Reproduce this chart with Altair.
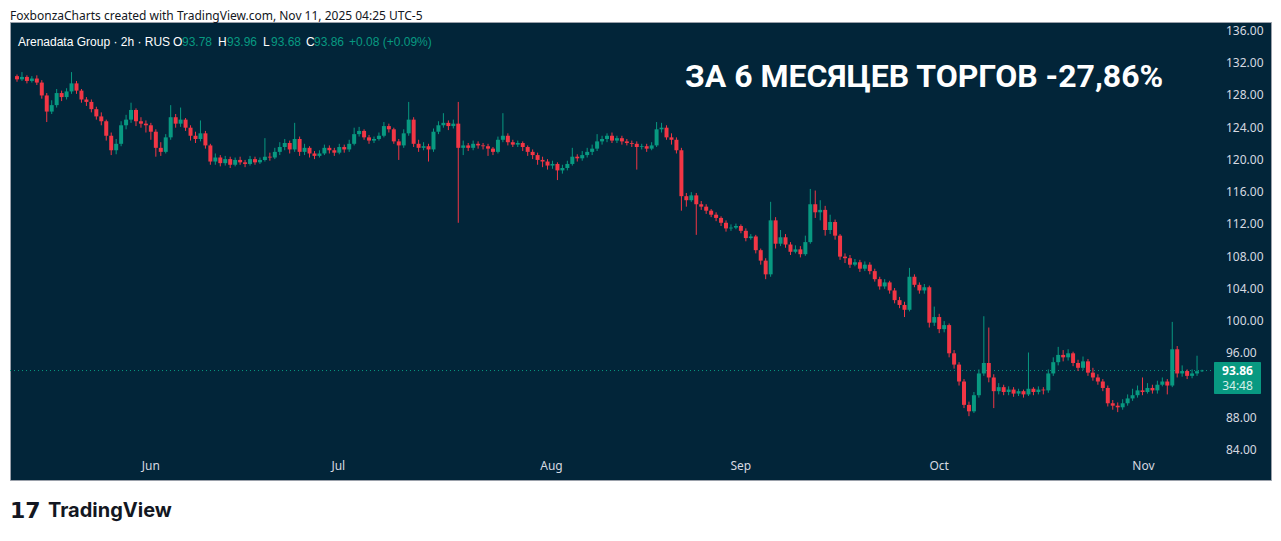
import altair as alt
import pandas as pd

# ---------------- data (2h candles) ----------------
opens = [
    130.4, 130.0, 130.3, 129.8, 130.1, 129.6, 128.0, 126.0, 126.8, 128.3,
    127.8, 128.5, 129.5, 128.6, 127.5, 127.2, 126.3, 125.4, 124.8, 123.0,
    121.2, 122.0, 124.3, 125.0, 126.2, 124.8, 124.5, 124.3, 123.5, 121.5,
    121.0, 122.8, 125.3, 124.5, 125.0, 124.0, 123.0, 122.6, 123.3, 121.8,
    119.8, 120.3, 119.6, 120.1, 119.4, 120.0, 119.7, 119.5, 120.1, 119.7,
    120.0, 120.4, 120.3, 121.0, 121.6, 122.1, 121.3, 122.6, 121.0, 121.5,
    120.8, 120.5, 120.8, 121.5, 121.2, 120.9, 121.6, 121.3, 122.0, 123.2,
    123.6, 122.8, 122.4, 122.6, 123.0, 124.2, 123.8, 122.3, 121.8, 123.3,
    125.0, 122.0, 121.5, 121.7, 121.3, 123.5, 124.3, 124.6, 124.2, 124.5,
    121.5, 121.8, 121.5, 122.0, 121.8, 121.7, 121.4, 121.0, 122.5, 123.0,
    122.2, 121.9, 122.1, 121.6, 121.0, 120.6, 120.0, 119.8, 119.3, 119.5,
    118.7, 119.0, 119.5, 120.4, 120.2, 120.6, 121.0, 121.4, 122.3, 122.6,
    123.0, 122.4, 122.7, 122.3, 122.1, 122.0, 121.6, 121.7, 121.4, 121.8,
    123.8, 124.0, 122.8, 122.5, 121.2, 115.5, 115.0, 115.6, 114.5, 114.2,
    113.7, 113.2, 112.8, 112.2, 111.5, 111.6, 111.8, 111.2, 110.3, 110.5,
    108.8, 107.5, 105.8, 112.5, 109.6, 110.4, 109.5, 108.6, 108.9, 108.3,
    109.8, 114.5, 113.5, 113.8, 111.3, 112.3, 110.6, 108.0, 107.8, 107.0,
    107.3, 106.5, 107.0, 106.2, 105.2, 104.3, 104.8, 103.8, 102.6, 102.0,
    101.4, 105.5, 104.5, 103.8, 104.2, 99.8, 100.5, 99.0, 99.5, 96.0,
    94.6, 92.5, 89.6, 88.8, 90.8, 93.5, 94.8, 93.0, 91.3, 91.8,
    91.2, 91.5, 91.0, 91.3, 90.9, 91.6, 91.2, 91.5, 91.4, 93.5,
    94.9, 95.8, 95.5, 96.0, 94.8, 94.2, 95.0, 93.6, 93.0, 92.5,
    91.7, 89.8, 89.5, 89.3, 89.8, 90.4, 90.8, 91.4, 91.2, 91.7,
    91.4, 92.1, 92.5, 92.0, 96.5, 93.5, 93.8, 93.2, 93.5, 93.78,
]
highs = [
    130.6, 130.9, 130.5, 130.4, 130.5, 129.9, 128.3, 127.4, 128.8, 128.6,
    128.9, 130.9, 129.8, 128.8, 127.8, 127.5, 126.6, 125.9, 125.0, 123.4,
    122.6, 124.8, 125.6, 127.1, 126.4, 125.3, 124.9, 124.6, 123.8, 122.2,
    123.2, 126.8, 125.7, 126.5, 125.2, 124.3, 123.5, 124.9, 123.6, 122.0,
    120.8, 120.6, 120.5, 120.4, 120.3, 120.4, 120.0, 120.5, 120.4, 120.3,
    122.7, 120.9, 121.5, 122.2, 122.6, 122.4, 124.6, 122.9, 122.0, 121.7,
    121.1, 121.2, 121.9, 121.8, 121.5, 122.0, 121.9, 122.5, 124.0, 124.1,
    123.8, 123.1, 122.9, 123.4, 124.7, 124.5, 124.0, 122.6, 123.8, 127.2,
    125.3, 122.5, 122.2, 122.0, 123.9, 124.8, 125.8, 124.9, 125.0, 127.2,
    122.4, 122.1, 122.4, 122.3, 122.1, 122.0, 121.6, 122.9, 125.8, 123.3,
    122.5, 122.4, 122.3, 121.8, 121.3, 120.9, 120.4, 120.1, 119.9, 119.7,
    119.4, 119.9, 121.5, 120.7, 121.1, 121.5, 121.9, 123.2, 123.0, 123.3,
    123.4, 123.0, 123.0, 122.6, 122.4, 122.3, 122.0, 122.0, 122.2, 124.7,
    124.6, 124.3, 123.3, 122.8, 121.5, 115.9, 116.0, 115.9, 114.9, 114.5,
    113.9, 113.5, 113.0, 112.5, 112.0, 112.1, 112.0, 111.5, 110.8, 110.7,
    109.0, 107.8, 114.8, 112.9, 111.3, 110.8, 109.8, 109.4, 109.3, 110.6,
    116.4, 116.2, 115.0, 114.3, 113.2, 112.6, 110.8, 108.4, 108.2, 107.7,
    107.6, 107.4, 107.3, 106.5, 105.5, 105.2, 105.0, 104.1, 103.0, 102.4,
    106.6, 105.8, 104.8, 104.6, 104.4, 101.8, 100.9, 100.0, 99.7, 96.4,
    94.9, 92.8, 90.0, 91.2, 94.0, 100.6, 99.2, 93.4, 92.3, 92.1,
    91.9, 91.8, 91.6, 91.5, 96.1, 91.8, 91.9, 91.8, 94.0, 95.5,
    96.8, 96.4, 96.5, 96.2, 95.2, 95.6, 95.3, 94.2, 93.4, 92.8,
    92.0, 90.2, 89.9, 90.3, 90.9, 91.6, 92.0, 93.0, 92.3, 92.1,
    92.6, 93.0, 92.8, 99.9, 96.9, 94.5, 94.0, 94.0, 95.7, 93.96,
]
lows = [
    129.7, 129.8, 129.5, 129.6, 129.3, 127.6, 124.7, 125.7, 126.5, 127.3,
    127.5, 128.2, 128.2, 127.1, 126.7, 125.9, 125.0, 124.3, 122.4, 120.6,
    120.7, 121.7, 123.8, 124.6, 124.2, 124.0, 123.4, 122.5, 120.4, 120.5,
    120.8, 122.5, 124.0, 124.1, 123.6, 122.4, 122.1, 122.3, 121.4, 119.4,
    119.4, 119.2, 119.3, 119.0, 119.2, 119.4, 119.1, 119.3, 119.4, 119.5,
    119.8, 119.9, 120.1, 120.6, 121.2, 120.8, 121.0, 120.5, 120.6, 120.3,
    120.1, 120.3, 120.6, 120.8, 120.5, 120.7, 120.9, 121.0, 121.8, 122.9,
    122.5, 122.0, 122.1, 122.4, 122.8, 123.4, 122.0, 120.0, 121.5, 123.0,
    121.6, 121.0, 121.2, 119.8, 121.0, 123.2, 124.0, 123.7, 123.9, 112.2,
    120.6, 121.1, 121.2, 121.4, 121.3, 120.5, 120.6, 120.8, 122.2, 121.8,
    121.6, 121.6, 121.1, 120.5, 120.1, 119.4, 119.1, 118.8, 118.9, 117.5,
    118.3, 118.7, 119.3, 119.8, 119.9, 120.3, 120.6, 121.1, 121.9, 122.2,
    122.1, 122.1, 121.9, 121.8, 121.6, 118.8, 121.3, 121.0, 121.2, 121.6,
    123.4, 122.5, 121.9, 120.8, 113.7, 114.2, 114.8, 110.7, 113.8, 113.3,
    112.9, 112.4, 111.8, 111.1, 111.2, 111.4, 110.9, 109.9, 110.1, 108.4,
    107.0, 105.2, 105.5, 109.0, 109.3, 109.1, 108.2, 108.4, 107.9, 108.1,
    109.6, 112.8, 112.5, 110.6, 110.8, 110.1, 107.6, 107.2, 106.6, 106.8,
    106.1, 106.2, 105.8, 104.9, 103.9, 104.0, 103.4, 102.2, 101.6, 100.5,
    101.2, 104.2, 103.4, 103.4, 99.2, 99.4, 98.5, 98.6, 95.5, 94.1,
    92.0, 89.2, 88.2, 88.6, 90.5, 93.2, 92.4, 89.2, 90.9, 90.8,
    90.8, 90.6, 90.7, 90.5, 90.7, 90.8, 90.9, 90.9, 91.1, 93.2,
    94.5, 95.0, 95.1, 94.4, 93.8, 93.9, 93.2, 92.6, 92.1, 91.3,
    89.4, 89.0, 88.7, 89.0, 89.5, 90.1, 90.5, 90.8, 91.0, 91.0,
    91.0, 91.9, 90.9, 91.8, 93.0, 93.1, 92.8, 92.9, 93.2, 93.68,
]
closes = [
    130.0, 130.3, 129.8, 130.1, 129.6, 128.0, 126.0, 126.8, 128.3, 127.8,
    128.5, 129.5, 128.6, 127.5, 127.2, 126.3, 125.4, 124.8, 123.0, 121.2,
    122.0, 124.3, 125.0, 126.2, 124.8, 124.5, 124.3, 123.5, 121.5, 121.0,
    122.8, 125.3, 124.5, 125.0, 124.0, 123.0, 122.6, 123.3, 121.8, 119.8,
    120.3, 119.6, 120.1, 119.4, 120.0, 119.7, 119.5, 120.1, 119.7, 120.0,
    120.4, 120.3, 121.0, 121.6, 122.1, 121.3, 122.6, 121.0, 121.5, 120.8,
    120.5, 120.8, 121.5, 121.2, 120.9, 121.6, 121.3, 122.0, 123.2, 123.6,
    122.8, 122.4, 122.6, 123.0, 124.2, 123.8, 122.3, 121.8, 123.3, 125.0,
    122.0, 121.5, 121.7, 121.3, 123.5, 124.3, 124.6, 124.2, 124.5, 121.5,
    121.8, 121.5, 122.0, 121.8, 121.7, 121.4, 121.0, 122.5, 123.0, 122.2,
    121.9, 122.1, 121.6, 121.0, 120.6, 120.0, 119.8, 119.3, 119.5, 118.7,
    119.0, 119.5, 120.4, 120.2, 120.6, 121.0, 121.4, 122.3, 122.6, 123.0,
    122.4, 122.7, 122.3, 122.1, 122.0, 121.6, 121.7, 121.4, 121.8, 123.8,
    124.0, 122.8, 122.5, 121.2, 115.5, 115.0, 115.6, 114.5, 114.2, 113.7,
    113.2, 112.8, 112.2, 111.5, 111.6, 111.8, 111.2, 110.3, 110.5, 108.8,
    107.5, 105.8, 112.5, 109.6, 110.4, 109.5, 108.6, 108.9, 108.3, 109.8,
    114.5, 113.5, 113.8, 111.3, 112.3, 110.6, 108.0, 107.8, 107.0, 107.3,
    106.5, 107.0, 106.2, 105.2, 104.3, 104.8, 103.8, 102.6, 102.0, 101.4,
    105.5, 104.5, 103.8, 104.2, 99.8, 100.5, 99.0, 99.5, 96.0, 94.6,
    92.5, 89.6, 88.8, 90.8, 93.5, 94.8, 93.0, 91.3, 91.8, 91.2,
    91.5, 91.0, 91.3, 90.9, 91.6, 91.2, 91.5, 91.4, 93.5, 94.9,
    95.8, 95.5, 96.0, 94.8, 94.2, 95.0, 93.6, 93.0, 92.5, 91.7,
    89.8, 89.5, 89.3, 89.8, 90.4, 90.8, 91.4, 91.2, 91.7, 91.4,
    92.1, 92.5, 92.0, 96.5, 93.5, 93.8, 93.2, 93.5, 93.78, 93.86,
]
price_ticks = [136, 132, 128, 124, 120, 116, 112, 108, 104, 100, 96, 88, 84]
month_names = ["Jun", "Jul", "Aug", "Sep", "Oct", "Nov"]
month_bar_index = [27.0, 64.8, 107.8, 146.0, 186.0, 227.2]
countdown = "34:48"
title_text = "ЗА 6 МЕСЯЦЕВ ТОРГОВ -27,86%"
credit_text = "FoxbonzaCharts created with TradingView.com, Nov 11, 2025 04:25 UTC-5"
symbol_text = "Arenadata Group · 2h · RUS"

# ---------------- styling ----------------
BG = "#022539"
GREEN = "#089981"
RED = "#F23645"
AXIS_TXT = "#d6d9e0"
FONT = "Noto Sans"
LEG_FONT = "Liberation Sans"
W, H = 1265, 525

n = len(closes)
df = pd.DataFrame({"i": list(range(n)), "o": opens, "h": highs, "l": lows, "c": closes})
df["dir"] = ["up" if c >= o else "down" for o, c in zip(opens, closes)]

xs = alt.Scale(domain=[0, n - 1], range=[4, 4 + 5 * (n - 1)], zero=False, nice=False)
ys = alt.Scale(domain=[84, 136], range=[442, 23], zero=False, nice=False)
col = alt.Color("dir:N", scale=alt.Scale(domain=["up", "down"], range=[GREEN, RED]), legend=None)

one = pd.DataFrame({"a": [0]})


def label(x, y, text, color, size=12, weight="normal", font=FONT, align="left"):
    return alt.Chart(one).mark_text(
        align=align, baseline="middle", font=font, fontSize=size, fontWeight=weight, color=color
    ).encode(x=alt.value(x), y=alt.value(y), text=alt.value(text))


bg = alt.Chart(one).mark_rect(fill=BG, stroke="#9aa0aa", strokeWidth=1).encode(
    x=alt.value(2.5), x2=alt.value(1263.5), y=alt.value(14.5), y2=alt.value(472.5)
)

base = alt.Chart(df)
wicks = base.mark_rule(strokeWidth=1).encode(
    x=alt.X("i:Q", scale=xs, axis=None),
    y=alt.Y("l:Q", scale=ys, axis=None),
    y2="h:Q",
    color=col,
)
bodies = base.mark_bar(size=4).encode(
    x=alt.X("i:Q", scale=xs, axis=None),
    y=alt.Y("o:Q", scale=ys, axis=None),
    y2="c:Q",
    color=col,
)

last = pd.DataFrame({"p": [closes[-1]], "lbl": [f"{closes[-1]:.2f}"], "cd": [countdown]})
dotted = alt.Chart(last).mark_rule(color=GREEN, strokeDash=[1, 3], strokeWidth=1).encode(
    y=alt.Y("p:Q", scale=ys, axis=None), x=alt.value(2), x2=alt.value(1206)
)

ticks_df = pd.DataFrame({"p": price_ticks, "lbl": [f"{t:.2f}" for t in price_ticks]})
price_labels = alt.Chart(ticks_df).mark_text(
    align="left", baseline="middle", font=FONT, fontSize=12, color=AXIS_TXT
).encode(y=alt.Y("p:Q", scale=ys, axis=None), x=alt.value(1218), text="lbl:N")

cover = alt.Chart(one).mark_rect(fill=BG).encode(
    x=alt.value(1207), x2=alt.value(1262), y=alt.value(446), y2=alt.value(472)
)

box = alt.Chart(last).mark_rect(fill=GREEN, cornerRadius=1).encode(
    x=alt.value(1206), x2=alt.value(1253), y=alt.value(354), y2=alt.value(386)
)
box_price = alt.Chart(last).mark_text(
    align="center", baseline="middle", font=FONT, fontSize=12, fontWeight="bold", color="white"
).encode(x=alt.value(1229.5), y=alt.value(363), text="lbl:N")
box_cd = alt.Chart(last).mark_text(
    align="center", baseline="middle", font=FONT, fontSize=12, color="#d4efe9"
).encode(x=alt.value(1229.5), y=alt.value(378), text="cd:N")

months_df = pd.DataFrame({"m": month_bar_index, "name": month_names})
month_labels = alt.Chart(months_df).mark_text(
    align="center", baseline="middle", font=FONT, fontSize=12, color=AXIS_TXT
).encode(x=alt.X("m:Q", scale=xs, axis=None), y=alt.value(458), text="name:N")

# legend line (symbol + OHLC of the last bar)
chg = closes[-1] - closes[-2]
pct = chg / closes[-2] * 100
legend_layers = [
    label(10, 34, symbol_text, "white", font=LEG_FONT),
    label(165, 34, "O", "white", font=LEG_FONT),
    label(174, 34, f"{opens[-1]:.2f}", GREEN, font=LEG_FONT),
    label(210, 34, "H", "white", font=LEG_FONT),
    label(219, 34, f"{highs[-1]:.2f}", GREEN, font=LEG_FONT),
    label(255, 34, "L", "white", font=LEG_FONT),
    label(263, 34, f"{lows[-1]:.2f}", GREEN, font=LEG_FONT),
    label(298, 34, "C", "white", font=LEG_FONT),
    label(306, 34, f"{closes[-1]:.2f}", GREEN, font=LEG_FONT),
    label(341, 34, f"+{chg:.2f} (+{pct:.2f}%)", GREEN, font=LEG_FONT),
]

title = label(677, 69, title_text, "white", size=32, weight="bold", font="Roboto")
credit = label(2, 8, credit_text, "#131722")
logo_icon = label(2, 503, "17", "#131722", size=22, weight=900, font="DejaVu Sans")
logo_text = label(40, 503, "TradingView", "#131722", size=20, weight="bold", font="Inter")

chart = alt.layer(
    bg, dotted, wicks, bodies, price_labels, cover, box, box_price, box_cd,
    month_labels, *legend_layers, title, credit, logo_icon, logo_text
).properties(
    width=W, height=H, autosize=alt.AutoSizeParams(type="none"), padding=0, background="white"
).configure_view(stroke=None)

chart.save("out.html", embed_options={"renderer": "svg", "actions": False})
